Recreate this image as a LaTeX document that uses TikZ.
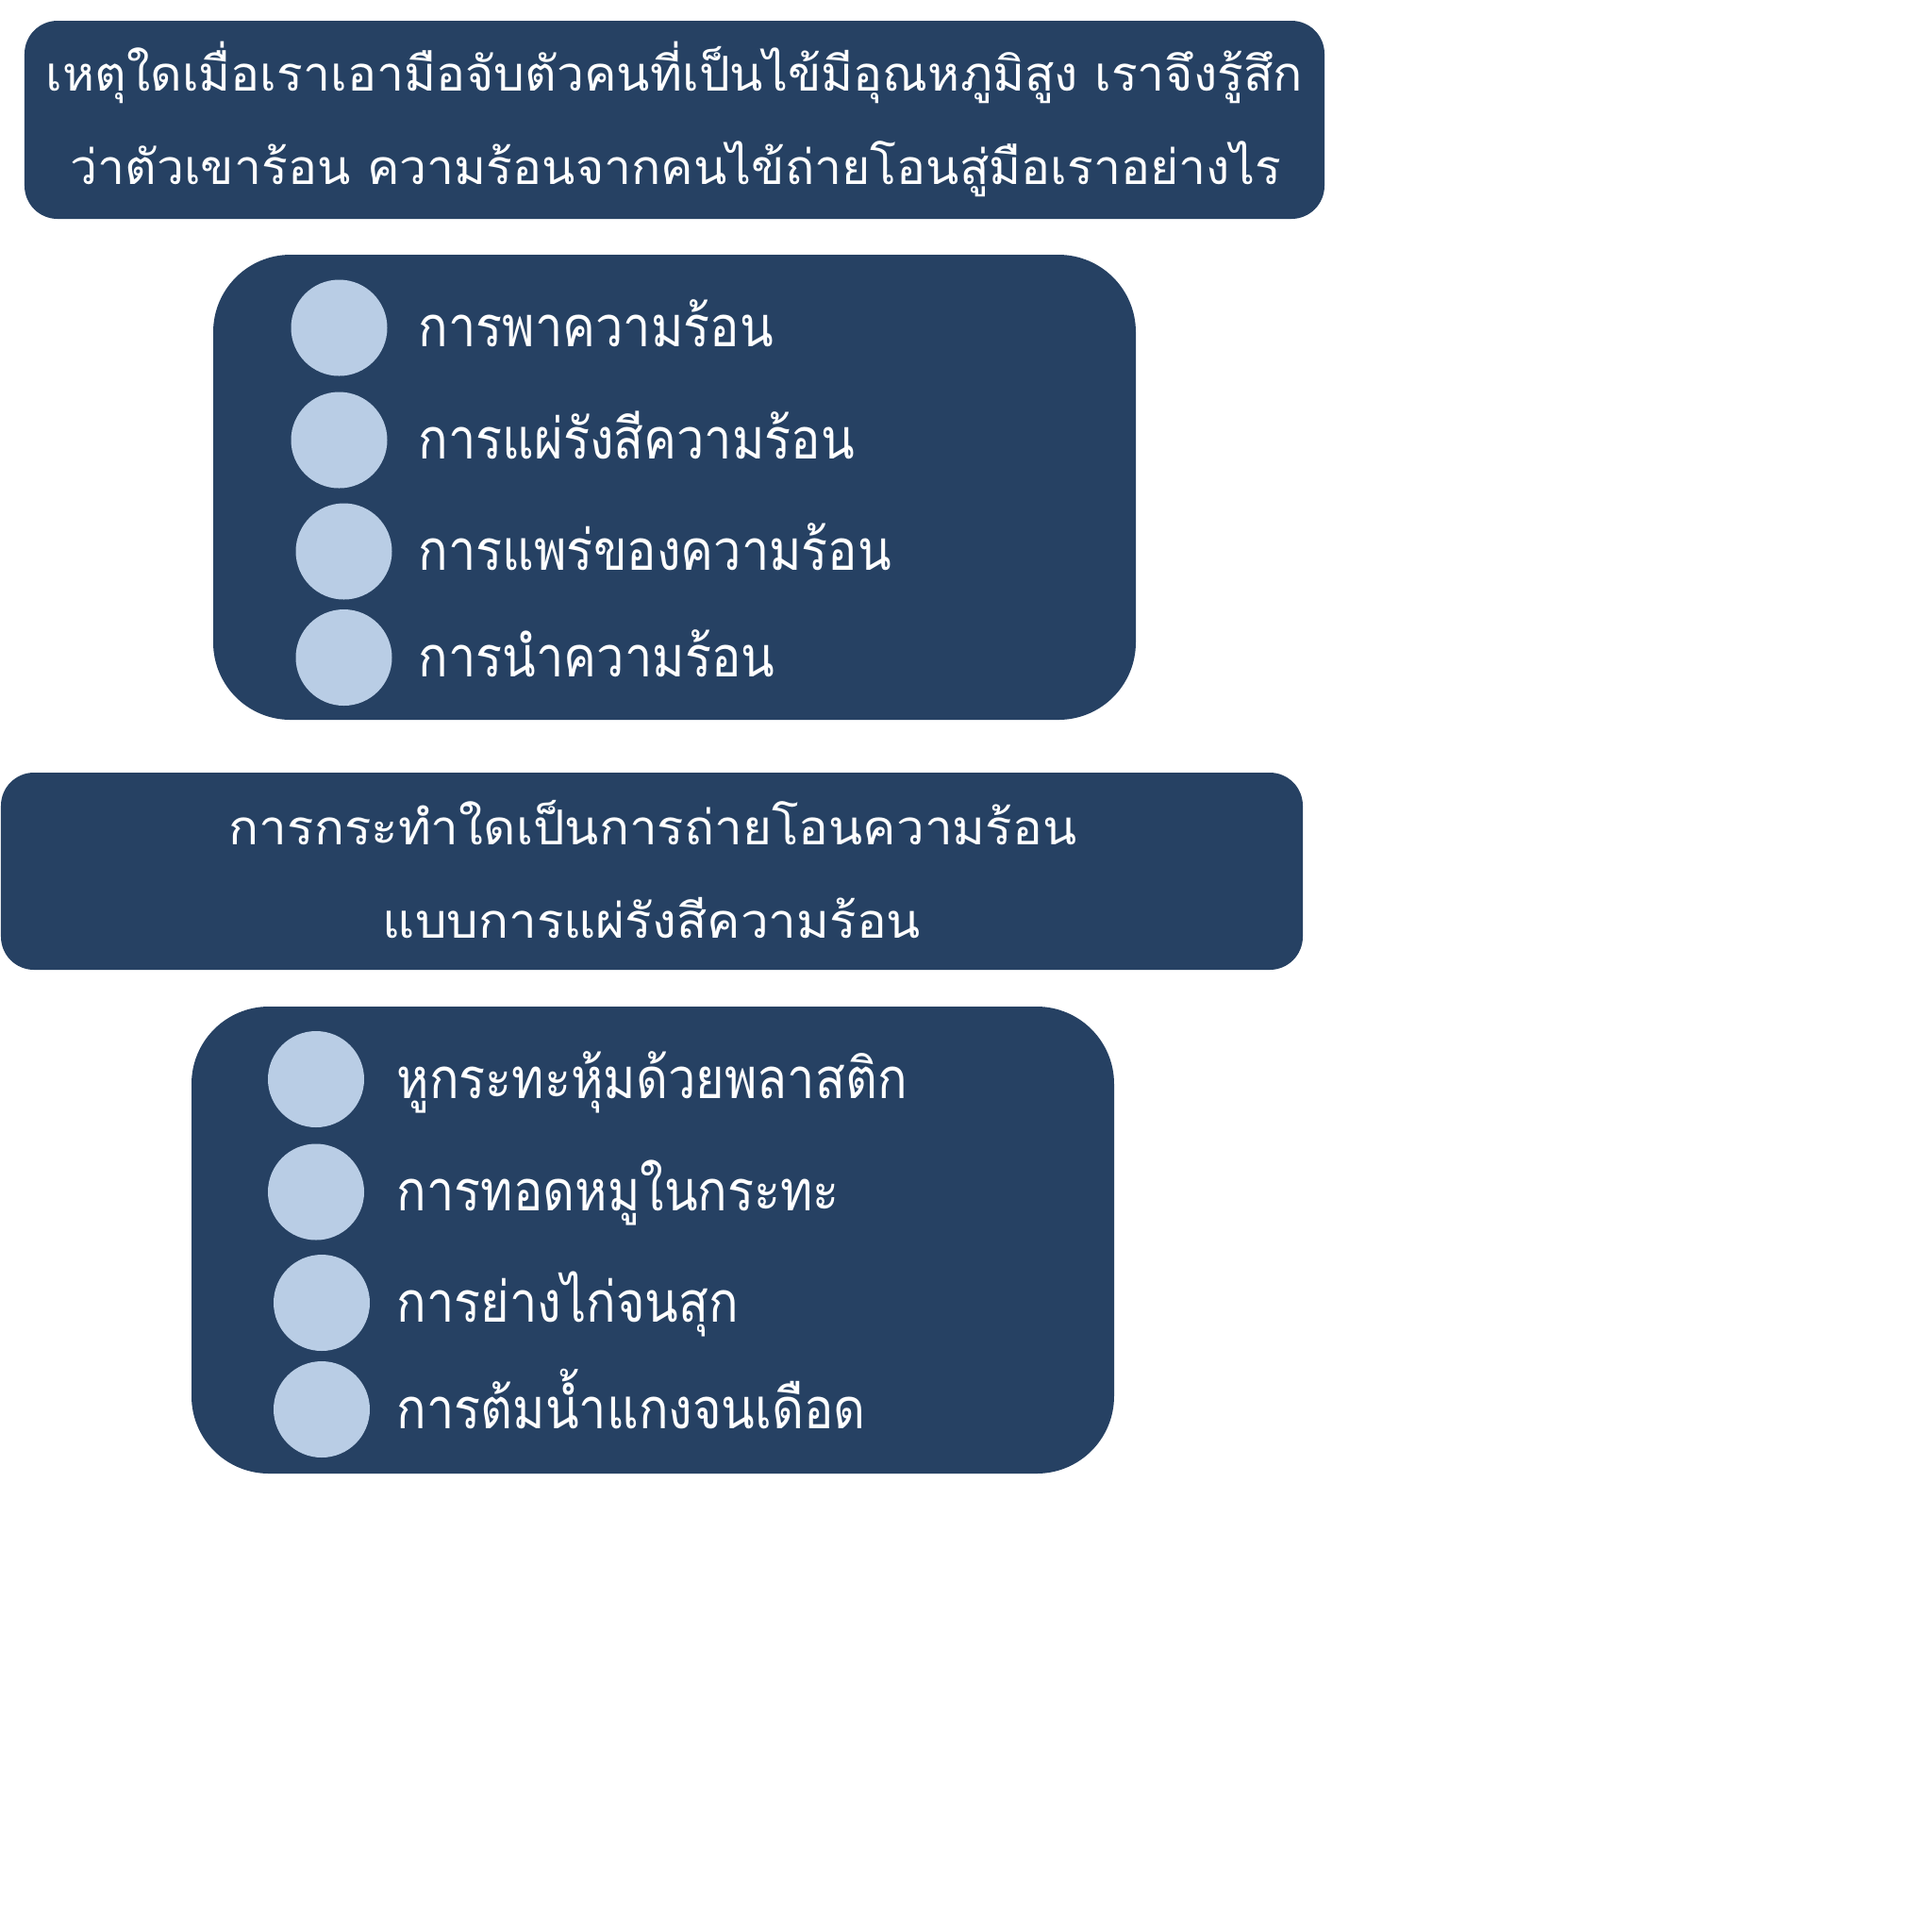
\documentclass[tikz,border=0pt]{standalone}
\usepackage{fontspec}
\usepackage{tikz}
\newfontfamily\thaiask[Script=Thai,FakeStretch=1.04]{Loma}
\newfontfamily\thaitop[Script=Thai,FakeStretch=1.015]{Loma}
\newfontfamily\thaiitem[Script=Thai,FakeStretch=0.875]{Loma}
\definecolor{panel}{HTML}{264163}
\definecolor{dot}{HTML}{B9CDE5}

\begin{document}
\begin{tikzpicture}[
    qbox/.style={fill=panel, rounded corners=0.35cm},
    abox/.style={fill=panel, rounded corners=0.82cm},
    bullet/.style={circle, fill=dot, minimum size=1.02cm, inner sep=0pt},
    qtext/.style={text=white, inner sep=0pt, anchor=base, font=\thaiask\fontsize{14.5}{14.5}\selectfont},
    toptext/.style={qtext, font=\thaitop\fontsize{14.5}{14.5}\selectfont},
    itext/.style={text=white, inner sep=0pt, anchor=base west, font=\thaiitem\fontsize{17}{17}\selectfont}]
    \useasboundingbox (0,0) rectangle (20.48,-20.48);
    \fill[white] (0,0) rectangle (20.48,-20.48);
    % question 1
    \fill[qbox] (0.26,-0.22) rectangle (14.04,-2.32);
    \node[toptext] (q1a) at (7.15,-0.965) {เหตุใดเมื่อเราเอามือจับตัวคนที่เป็นไข้มีอุณหภูมิสูง เราจึงรู้สึก};
    \node[toptext] (q1b) at (7.16,-1.95) {ว่าตัวเขาร้อน ความร้อนจากคนไข้ถ่ายโอนสู่มือเราอย่างไร};
    % choices 1
    \fill[abox] (2.26,-2.70) rectangle (12.04,-7.63);
    \node[bullet] (c1) at (3.595,-3.475) {};
    \node[bullet] (c2) at (3.595,-4.665) {};
    \node[bullet] (c3) at (3.645,-5.845) {};
    \node[bullet] (c4) at (3.645,-6.97) {};
    \node[itext] (t1) at (4.43,-3.675) {การพาความร้อน};
    \node[itext] (t2) at (4.43,-4.865) {การแผ่รังสีความร้อน};
    \node[itext] (t3) at (4.43,-6.045) {การแพร่ของความร้อน};
    \node[itext] (t4) at (4.43,-7.17) {การนำความร้อน};
    % question 2
    \fill[qbox] (0.01,-8.19) rectangle (13.81,-10.28);
    \node[qtext] (q2a) at (6.92,-8.95) {การกระทำใดเป็นการถ่ายโอนความร้อน};
    \node[qtext] (q2b) at (6.91,-9.94) {แบบการแผ่รังสีความร้อน};
    % choices 2
    \fill[abox] (2.03,-10.67) rectangle (11.81,-15.62);
    \node[bullet] (c5) at (3.35,-11.44) {};
    \node[bullet] (c6) at (3.35,-12.635) {};
    \node[bullet] (c7) at (3.41,-13.81) {};
    \node[bullet] (c8) at (3.41,-14.94) {};
    \node[itext] (t5) at (4.20,-11.64) {หูกระทะหุ้มด้วยพลาสติก};
    \node[itext] (t6) at (4.20,-12.835) {การทอดหมูในกระทะ};
    \node[itext] (t7) at (4.20,-14.01) {การย่างไก่จนสุก};
    \node[itext] (t8) at (4.20,-15.14) {การต้มน้ำแกงจนเดือด};
\end{tikzpicture}
\end{document}
